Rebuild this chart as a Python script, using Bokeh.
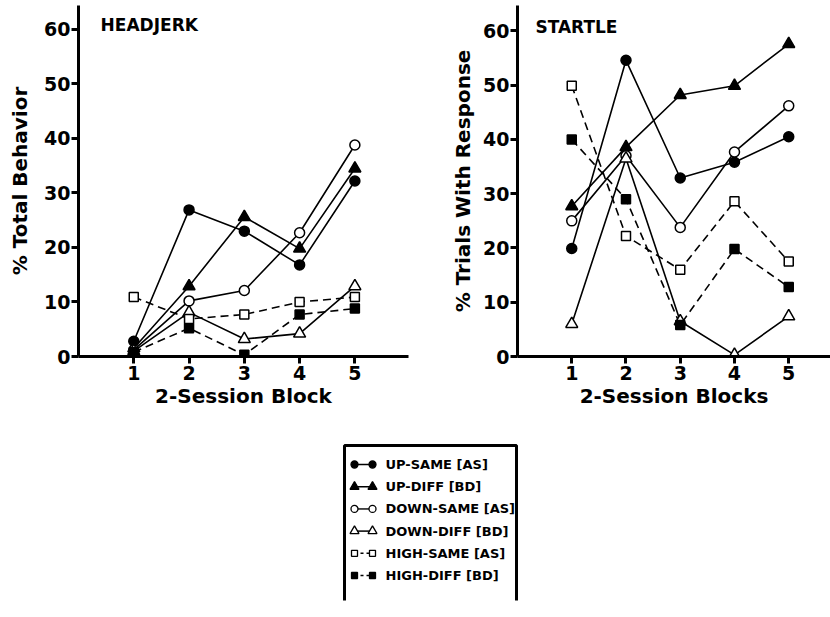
from bokeh.plotting import figure
from bokeh.layouts import column, row
from bokeh.models import Range1d, Label, FixedTicker
from bokeh.embed import file_html
from bokeh.resources import INLINE
from bokeh.core.properties import value

# ---------------- data ----------------
blocks = [1, 2, 3, 4, 5]
x_tick_labels = ["1", "2", "3", "4", "5"]
y_ticks = [0, 10, 20, 30, 40, 50, 60]

series_names = ["UP-SAME [AS]", "UP-DIFF [BD]", "DOWN-SAME [AS]",
                "DOWN-DIFF [BD]", "HIGH-SAME [AS]", "HIGH-DIFF [BD]"]

# HEADJERK (% Total Behavior)
hj_up_same = [2.8, 26.9, 23.0, 16.8, 32.2]
hj_up_diff = [1.5, 12.9, 25.6, 19.8, 34.5]
hj_down_same = [1.2, 10.2, 12.1, 22.7, 38.8]
hj_down_diff = [1.0, 8.1, 3.2, 4.2, 12.9]
hj_high_same = [10.9, 6.9, 7.7, 10.0, 10.9]
hj_high_diff = [0.8, 5.2, 0.3, 7.7, 8.8]

# STARTLE (% Trials With Response)
st_up_same = [19.9, 54.6, 32.9, 35.8, 40.5]
st_up_diff = [27.7, 38.6, 48.2, 49.9, 57.6]
st_down_same = [25.0, 37.0, 23.8, 37.7, 46.2]
st_down_diff = [6.0, 36.5, 6.5, 0.3, 7.4]
st_high_same = [49.9, 22.2, 16.0, 28.6, 17.5]
st_high_diff = [40.0, 29.0, 5.8, 19.8, 12.8]

hj_series = [hj_up_same, hj_up_diff, hj_down_same, hj_down_diff, hj_high_same, hj_high_diff]
st_series = [st_up_same, st_up_diff, st_down_same, st_down_diff, st_high_same, st_high_diff]

# ---------------- styles ----------------
FONT = "DejaVu Sans"
styles = [
    dict(marker="circle", fill="black", dash="solid", size=10),
    dict(marker="triangle", fill="black", dash="solid", size=12),
    dict(marker="circle", fill="white", dash="solid", size=10),
    dict(marker="triangle", fill="white", dash="solid", size=12),
    dict(marker="square", fill="white", dash="8 5", size=9),
    dict(marker="square", fill="black", dash="8 5", size=9),
]


def make_panel(width, border_left, border_right, x_end, y_end, series,
               ylabel, xlabel, title, title_x, ylabel_standoff):
    p = figure(width=width, height=410,
               x_range=Range1d(0, x_end), y_range=Range1d(0, y_end),
               output_backend="svg", toolbar_location=None,
               min_border_left=border_left, min_border_right=border_right,
               min_border_top=5, min_border_bottom=54,
               background_fill_color="white", border_fill_color="white")
    p.grid.visible = False
    p.outline_line_color = None

    for vals, st in zip(series, styles):
        p.line(blocks, vals, line_color="black", line_width=1.6,
               line_dash=st["dash"])
    for vals, st in zip(series, styles):
        p.scatter(blocks, vals, marker=st["marker"], size=st["size"],
                  fill_color=st["fill"], line_color="black", line_width=1.5)

    xa = p.xaxis[0]
    xa.ticker = FixedTicker(ticks=blocks)
    xa.major_label_overrides = {b: t for b, t in zip(blocks, x_tick_labels)}
    xa.axis_label = xlabel
    ya = p.yaxis[0]
    ya.ticker = FixedTicker(ticks=y_ticks)
    ya.axis_label = ylabel
    for ax in (xa, ya):
        ax.axis_line_width = 3
        ax.axis_line_color = "black"
        ax.major_tick_line_width = 3
        ax.major_tick_line_color = "black"
        ax.major_tick_out = 7
        ax.major_tick_in = 0
        ax.minor_tick_line_color = None
        ax.major_label_text_font = FONT
        ax.major_label_text_font_style = "bold"
        ax.major_label_text_font_size = "19px"
        ax.major_label_text_color = "black"
        ax.axis_label_text_font = FONT
        ax.axis_label_text_font_style = "bold"
        ax.axis_label_text_font_size = "20px"
        ax.axis_label_text_color = "black"
    xa.major_label_standoff = 2
    xa.axis_label_standoff = 1
    ya.major_label_standoff = 1
    ya.axis_label_standoff = ylabel_standoff

    p.add_layout(Label(x=title_x, y=60.8, text=title, text_font=FONT,
                       text_font_style="bold", text_font_size="17px",
                       text_baseline="middle", text_color="black"))
    return p


p1 = make_panel(415, 78, 7, 5.97, 64.4, hj_series,
                "% Total Behavior", "2-Session Block", "HEADJERK", 0.4, 9)
p2 = make_panel(415, 102, 0, 5.77, 64.7, st_series,
                "% Trials With Response", "2-Session Blocks", "STARTLE", 0.33, 5)

# ---------------- legend panel ----------------
LW, LH = 830, 207
pl = figure(width=LW, height=LH, x_range=Range1d(0, LW), y_range=Range1d(LH, 0),
            output_backend="svg", toolbar_location=None,
            min_border=0, background_fill_color="white", border_fill_color="white")
pl.axis.visible = False
pl.grid.visible = False
pl.outline_line_color = None

box_left, box_top, box_right, box_bottom = 344, 35, 516, 190
pl.line([box_left, box_left, box_right, box_right],
        [box_bottom, box_top, box_top, box_bottom],
        line_color="black", line_width=3)

row_y0, row_dy = 54, 22.2
m_x0, m_x1, text_x = 354, 372, 385
for i, (name, st) in enumerate(zip(series_names, styles)):
    yy = row_y0 + i * row_dy
    pl.line([m_x0, m_x1], [yy, yy], line_color="black", line_width=1.5,
            line_dash="3 3" if st["dash"] != "solid" else "solid")
    pl.scatter([m_x0, m_x1], [yy, yy], marker=st["marker"], size=st["size"] - 3,
               fill_color=st["fill"], line_color="black", line_width=1.3)
    pl.text([text_x], [yy], text=[name], text_font=value(FONT),
            text_font_style="bold", text_font_size="13px",
            text_baseline="middle", text_color="black")

layout = column(row(p1, p2), pl)
open("out.html", "w").write(file_html(layout, INLINE))
